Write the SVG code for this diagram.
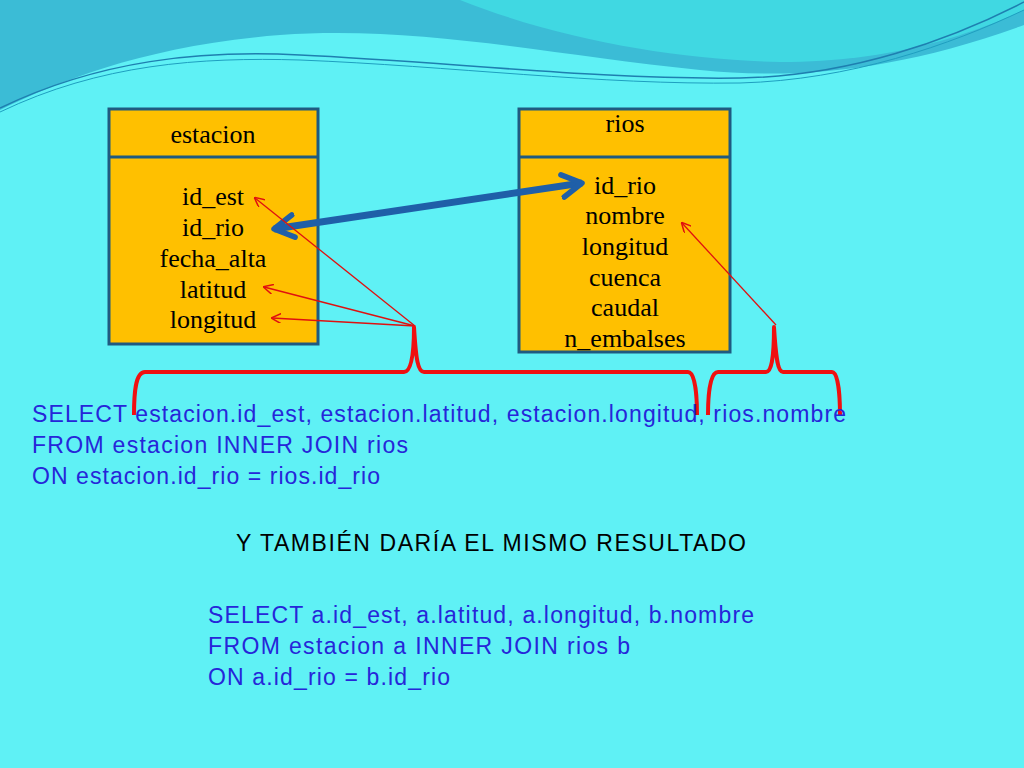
<svg xmlns="http://www.w3.org/2000/svg" width="1024" height="768" viewBox="0 0 1024 768">
<style>
.box{fill:#FFC000;stroke:#1F5A80;stroke-width:3}
.f{font-family:"Liberation Serif",serif;font-size:26px;fill:#000;text-anchor:middle}
.sql{font-family:"Liberation Sans",Arial,sans-serif;font-size:23px;fill:#2626D9}
.red{fill:none;stroke:#E01010;stroke-width:1.3}
.brace{fill:none;stroke:#F01010;stroke-width:4;stroke-linejoin:round}
</style>
<defs>
<marker id="ra" viewBox="0 0 10 10" refX="9" refY="5" markerWidth="10" markerHeight="10" markerUnits="userSpaceOnUse" orient="auto"><path d="M0,0 L10,5 L0,10" fill="none" stroke="#E01010" stroke-width="1.5"/></marker>
<marker id="ba" viewBox="0 0 10 10" refX="8" refY="5" markerWidth="4" markerHeight="4" orient="auto-start-reverse"><path d="M1,1 L8,5 L1,9" fill="none" stroke="#1F5FA8" stroke-width="2" stroke-linecap="round" stroke-linejoin="round"/></marker>
</defs>
<rect width="1024" height="768" fill="#5FF1F5"/>
<g id="waves">
<path d="M0,0 H1024 V25 C900,70 800,80 700,70 C550,55 420,25 280,35 C150,45 60,80 0,110 Z" fill="#3BBCD6"/>
<path d="M460,0 C560,40 680,60 780,62 C900,62 980,30 1024,10 V0 Z" fill="#40D8E2"/>
<path d="M0,108 C100,60 200,50 300,55 C450,62 600,80 740,78 C850,76 950,40 1024,2" fill="none" stroke="#1E7FB0" stroke-width="1.5"/>
<path d="M0,112 C100,64 200,57 300,60 C450,66 600,85 740,83 C850,80 950,45 1024,10" fill="none" stroke="#1E9FC0" stroke-width="1"/>
</g>
<g id="estacion">
<rect class="box" x="109" y="109" width="209" height="235"/>
<line x1="109" y1="157" x2="318" y2="157" stroke="#1F5A80" stroke-width="3"/>
<text class="f" x="213" y="143">estacion</text>
<text class="f" x="213" y="205">id_est</text>
<text class="f" x="213" y="236">id_rio</text>
<text class="f" x="213" y="267">fecha_alta</text>
<text class="f" x="213" y="298">latitud</text>
<text class="f" x="213" y="328">longitud</text>
</g>
<g id="rios">
<rect class="box" x="519" y="109" width="211" height="243"/>
<line x1="519" y1="157" x2="730" y2="157" stroke="#1F5A80" stroke-width="3"/>
<text class="f" x="625" y="132">rios</text>
<text class="f" x="625" y="194">id_rio</text>
<text class="f" x="625" y="224">nombre</text>
<text class="f" x="625" y="255">longitud</text>
<text class="f" x="625" y="286">cuenca</text>
<text class="f" x="625" y="316">caudal</text>
<text class="f" x="625" y="347">n_embalses</text>
</g>
<g id="connectors">
<line x1="274" y1="229" x2="582" y2="183" stroke="#1F5FA8" stroke-width="7" marker-start="url(#ba)" marker-end="url(#ba)"/>
<line class="red" x1="415" y1="326" x2="255" y2="198" marker-end="url(#ra)"/>
<line class="red" x1="415" y1="326" x2="264" y2="287" marker-end="url(#ra)"/>
<line class="red" x1="415" y1="326" x2="272" y2="318" marker-end="url(#ra)"/>
<line class="red" x1="776" y1="325" x2="682" y2="223" marker-end="url(#ra)"/>
<path class="brace" d="M134,415 C134,395 135,372 145,372 H404 C410,372 414,360 414,327 C416,360 418,372 424,372 H688 C695,372 697,395 697,415"/>
<path class="brace" d="M708,415 C708,395 710,372 718,372 H766 C771,372 774,360 774,327 C776,360 778,372 783,372 H832 C838,372 840,395 840,415"/>
</g>
<g id="text">
<text class="sql" x="32" y="422" textLength="814">SELECT estacion.id_est, estacion.latitud, estacion.longitud, rios.nombre</text>
<text class="sql" x="32" y="453" textLength="376">FROM estacion INNER JOIN rios</text>
<text class="sql" x="32" y="484" textLength="348">ON estacion.id_rio = rios.id_rio</text>
<text x="236" y="551" textLength="510" font-family="Liberation Sans,Arial,sans-serif" font-size="23" fill="#000">Y TAMBIÉN DARÍA EL MISMO RESULTADO</text>
<text class="sql" x="208" y="623" textLength="546">SELECT a.id_est, a.latitud, a.longitud, b.nombre</text>
<text class="sql" x="208" y="654" textLength="422">FROM estacion a INNER JOIN rios b</text>
<text class="sql" x="208" y="685" textLength="242">ON a.id_rio = b.id_rio</text>
</g>
</svg>
